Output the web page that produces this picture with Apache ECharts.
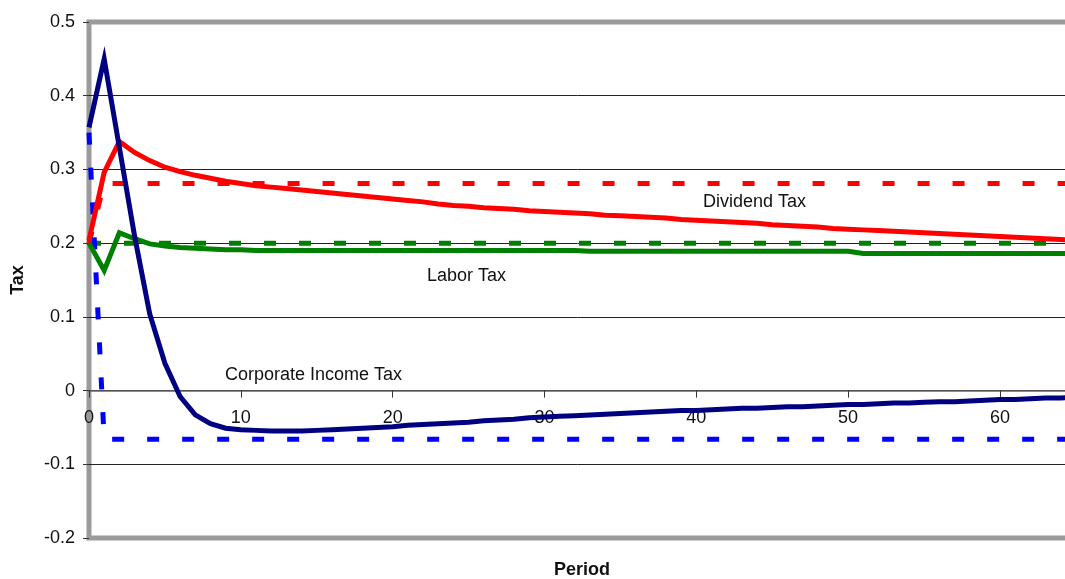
<!DOCTYPE html>
<html>
<head>
<meta charset="utf-8">
<script src="https://cdn.jsdelivr.net/npm/echarts@6/dist/echarts.min.js"></script>
<style>
html,body{margin:0;padding:0;background:#fff;}
#c{width:1065px;height:579px;}
</style>
</head>
<body>
<div id="c"></div>
<script>
// Period index 0..65
const periods = Array.from({length: 66}, (_, i) => i);

// Corporate income tax (solid navy)
const corporateTax = [
  0.357, 0.450, 0.330, 0.210, 0.104, 0.037, -0.008, -0.033, -0.045, -0.051,
  -0.053, -0.054, -0.055, -0.055, -0.055, -0.054, -0.053, -0.052, -0.051, -0.050,
  -0.049, -0.047, -0.046, -0.045, -0.044, -0.043, -0.041, -0.040, -0.039, -0.037,
  -0.036, -0.035, -0.034, -0.033, -0.032, -0.031, -0.030, -0.029, -0.028, -0.027,
  -0.027, -0.026, -0.025, -0.024, -0.024, -0.023, -0.022, -0.022, -0.021, -0.020,
  -0.019, -0.019, -0.018, -0.017, -0.017, -0.016, -0.015, -0.015, -0.014, -0.013,
  -0.012, -0.012, -0.011, -0.010, -0.010, -0.009
];
// Corporate income tax benchmark (dashed blue)
const corporateTaxBench = [
  0.350, -0.066, -0.066, -0.066, -0.066, -0.066, -0.066, -0.066, -0.066, -0.066,
  -0.066, -0.066, -0.066, -0.066, -0.066, -0.066, -0.066, -0.066, -0.066, -0.066,
  -0.066, -0.066, -0.066, -0.066, -0.066, -0.066, -0.066, -0.066, -0.066, -0.066,
  -0.066, -0.066, -0.066, -0.066, -0.066, -0.066, -0.066, -0.066, -0.066, -0.066,
  -0.066, -0.066, -0.066, -0.066, -0.066, -0.066, -0.066, -0.066, -0.066, -0.066,
  -0.066, -0.066, -0.066, -0.066, -0.066, -0.066, -0.066, -0.066, -0.066, -0.066,
  -0.066, -0.066, -0.066, -0.066, -0.066, -0.066
];
// Dividend tax (solid red)
const dividendTax = [
  0.204, 0.296, 0.338, 0.323, 0.312, 0.303, 0.297, 0.292, 0.288, 0.284,
  0.281, 0.278, 0.276, 0.274, 0.272, 0.270, 0.268, 0.266, 0.264, 0.262,
  0.260, 0.258, 0.256, 0.253, 0.251, 0.250, 0.248, 0.247, 0.246, 0.244,
  0.243, 0.242, 0.241, 0.240, 0.238, 0.237, 0.236, 0.235, 0.234, 0.232,
  0.231, 0.230, 0.229, 0.228, 0.227, 0.225, 0.224, 0.223, 0.222, 0.220,
  0.219, 0.218, 0.217, 0.216, 0.215, 0.214, 0.213, 0.212, 0.211, 0.210,
  0.209, 0.208, 0.207, 0.206, 0.205, 0.204
];
// Dividend tax benchmark (dashed red)
const dividendTaxBench = [
  0.200, 0.281, 0.281, 0.281, 0.281, 0.281, 0.281, 0.281, 0.281, 0.281,
  0.281, 0.281, 0.281, 0.281, 0.281, 0.281, 0.281, 0.281, 0.281, 0.281,
  0.281, 0.281, 0.281, 0.281, 0.281, 0.281, 0.281, 0.281, 0.281, 0.281,
  0.281, 0.281, 0.281, 0.281, 0.281, 0.281, 0.281, 0.281, 0.281, 0.281,
  0.281, 0.281, 0.281, 0.281, 0.281, 0.281, 0.281, 0.281, 0.281, 0.281,
  0.281, 0.281, 0.281, 0.281, 0.281, 0.281, 0.281, 0.281, 0.281, 0.281,
  0.281, 0.281, 0.281, 0.281, 0.281, 0.281
];
// Labor tax (solid green)
const laborTax = [
  0.200, 0.163, 0.214, 0.206, 0.199, 0.196, 0.194, 0.193, 0.192, 0.191,
  0.191, 0.190, 0.190, 0.190, 0.190, 0.190, 0.190, 0.190, 0.190, 0.190,
  0.190, 0.190, 0.190, 0.190, 0.190, 0.190, 0.190, 0.190, 0.190, 0.190,
  0.190, 0.190, 0.190, 0.189, 0.189, 0.189, 0.189, 0.189, 0.189, 0.189,
  0.189, 0.189, 0.189, 0.189, 0.189, 0.189, 0.189, 0.189, 0.189, 0.189,
  0.189, 0.186, 0.186, 0.186, 0.186, 0.186, 0.186, 0.186, 0.186, 0.186,
  0.186, 0.186, 0.186, 0.186, 0.186, 0.186
];
// Labor tax benchmark (dashed green)
const laborTaxBench = [
  0.200, 0.200, 0.200, 0.200, 0.200, 0.200, 0.200, 0.200, 0.200, 0.200,
  0.200, 0.200, 0.200, 0.200, 0.200, 0.200, 0.200, 0.200, 0.200, 0.200,
  0.200, 0.200, 0.200, 0.200, 0.200, 0.200, 0.200, 0.200, 0.200, 0.200,
  0.200, 0.200, 0.200, 0.200, 0.200, 0.200, 0.200, 0.200, 0.200, 0.200,
  0.200, 0.200, 0.200, 0.200, 0.200, 0.200, 0.200, 0.200, 0.200, 0.200,
  0.200, 0.200, 0.200, 0.200, 0.200, 0.200, 0.200, 0.200, 0.200, 0.200,
  0.200, 0.200, 0.200, 0.200, 0.200, 0.200
];

const xTicks = [0, 10, 20, 30, 40, 50, 60];
const yTicks = [-0.2, -0.1, 0, 0.1, 0.2, 0.3, 0.4, 0.5];
const seriesLabels = ['Dividend Tax', 'Labor Tax', 'Corporate Income Tax'];

const FONT = '"Liberation Sans", Arial, sans-serif';
const pair = arr => periods.map((p, i) => [p, arr[i]]);
const dash = [12, 23];

const GRID_TOP = 22, GRID_H = 516;
const yMin = yTicks[0], yMax = yTicks[yTicks.length - 1];
// shift the x axis from the bottom edge up to the y = 0 line
const zeroOffset = -GRID_H * (0 - yMin) / (yMax - yMin);

function line(name, arr, color, dashed) {
  return {
    name: name, type: 'line', data: pair(arr), symbol: 'none', smooth: false,
    clip: true,
    lineStyle: {color: color, width: 5, type: dashed ? dash : 'solid', cap: 'butt', join: 'miter'},
    emphasis: {disabled: true}, silent: true, animation: false
  };
}

const chart = echarts.init(document.getElementById('c'), null, {renderer: 'canvas'});
chart.setOption({
  backgroundColor: '#fff',
  animation: false,
  grid: {left: 89, top: GRID_TOP, width: 980, height: GRID_H, show: true,
         outerBoundsMode: 'none', containLabel: false,
         borderColor: '#9a9a9a', borderWidth: 5, backgroundColor: 'transparent'},
  xAxis: {
    type: 'value', min: xTicks[0], max: 64.55, interval: 10,
    position: 'bottom', offset: zeroOffset,
    axisLine: {show: true, onZero: false, lineStyle: {color: '#666', width: 1.5}},
    axisTick: {show: true, length: 7, lineStyle: {color: '#333', width: 1}},
    axisLabel: {show: true, margin: 18, color: '#111', fontSize: 18, fontFamily: FONT,
                showMaxLabel: false, showMinLabel: true,
                formatter: v => xTicks.indexOf(v) >= 0 ? String(v) : ''},
    splitLine: {show: false}
  },
  yAxis: {
    type: 'value', min: yMin, max: yMax, interval: 0.1,
    axisLine: {show: false},
    axisTick: {show: true, length: 6, lineStyle: {color: '#333', width: 1}},
    axisLabel: {margin: 14, color: '#111', fontSize: 18, fontFamily: FONT,
                formatter: v => String(Math.round(v * 10) / 10)},
    splitLine: {show: true, showMinLine: false, showMaxLine: false,
                lineStyle: {color: '#222', width: 1}}
  },
  series: [
    line('Labor Tax benchmark', laborTaxBench, '#008000', true),
    line('Dividend Tax benchmark', dividendTaxBench, '#ff0000', true),
    line('Corporate Income Tax benchmark', corporateTaxBench, '#0000ff', true),
    line('Labor Tax', laborTax, '#008000', false),
    line('Dividend Tax', dividendTax, '#ff0000', false),
    line('Corporate Income Tax', corporateTax, '#000080', false)
  ],
  graphic: [
    {type: 'text', x: 703, y: 202, silent: true, z: 100,
     style: {text: seriesLabels[0], fill: '#111', font: '18px ' + FONT, textAlign: 'left', textVerticalAlign: 'middle'}},
    {type: 'text', x: 427, y: 276, silent: true, z: 100,
     style: {text: seriesLabels[1], fill: '#111', font: '18px ' + FONT, textAlign: 'left', textVerticalAlign: 'middle'}},
    {type: 'text', x: 225, y: 375, silent: true, z: 100,
     style: {text: seriesLabels[2], fill: '#111', font: '18px ' + FONT, textAlign: 'left', textVerticalAlign: 'middle'}},
    {type: 'text', x: 582, y: 570, silent: true, z: 100,
     style: {text: 'Period', fill: '#111', font: 'bold 18px ' + FONT, textAlign: 'center', textVerticalAlign: 'middle'}},
    {type: 'text', x: 18, y: 280, rotation: Math.PI / 2, silent: true, z: 100,
     style: {text: 'Tax', fill: '#111', font: 'bold 18px ' + FONT, textAlign: 'center', textVerticalAlign: 'middle'}}
  ]
});
</script>
</body>
</html>
